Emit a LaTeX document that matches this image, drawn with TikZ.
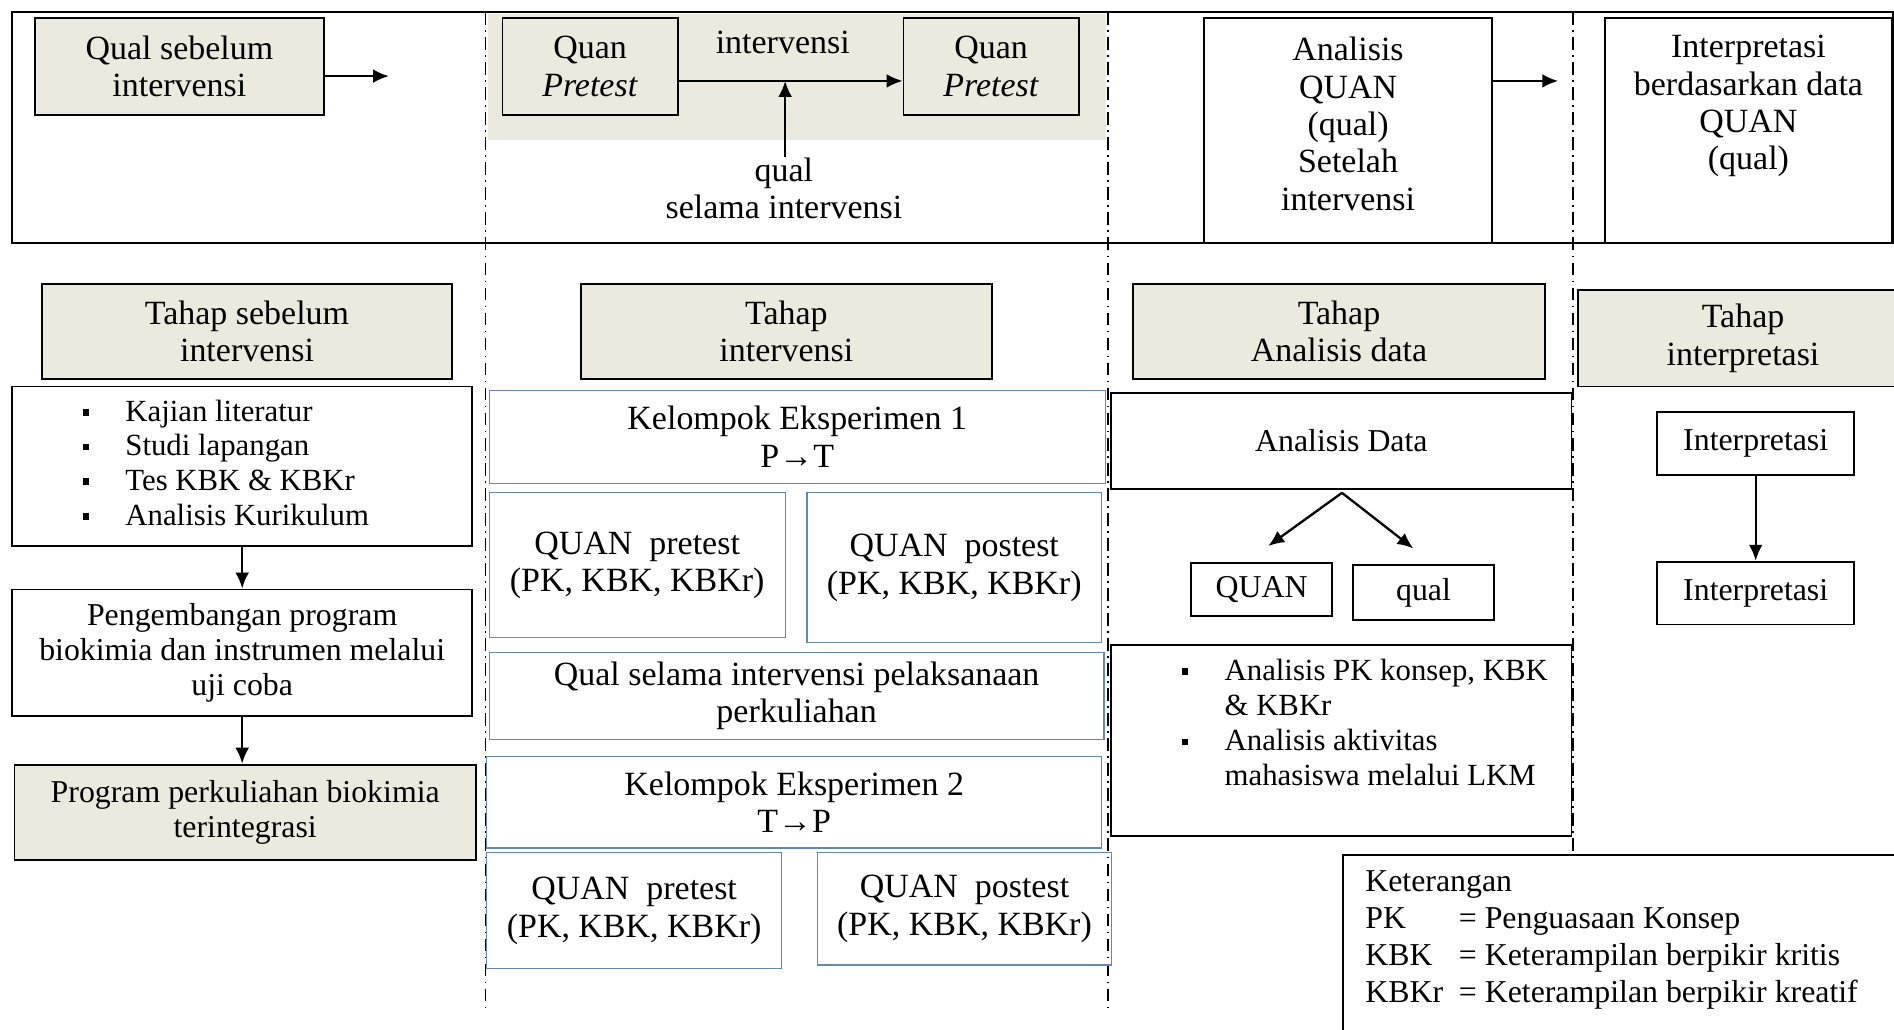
\documentclass[tikz,border=0pt]{standalone}
\usepackage{fontspec}
\setmainfont{Liberation Serif}
\usepackage{tikz}
\usetikzlibrary{arrows.meta}
\definecolor{beige}{RGB}{236,233,222}
\definecolor{steel}{RGB}{100,135,180}
\newcommand{\sqbullet}{\raisebox{0.09cm}{\rule{0.11cm}{0.11cm}}}

\begin{document}
\begin{tikzpicture}[x=0.02cm, y=-0.02cm, every node/.style={align=center, inner sep=0pt, font=\fontsize{16}{17.6}\selectfont}]
	
	\tikzset{edge/.style = {->,> = {Latex[length=7.5pt,width=6.5pt]}, line width=1.1pt}}
	\tikzset{wh/.style 2 args = {minimum width=#1*0.02cm, minimum height=#2*0.02cm}}
	\tikzset{box/.style = {draw=black, line width=0.9pt}}
	\tikzset{tahap/.style = {box, fill=beige}}
	\tikzset{bluebox/.style = {draw=steel, line width=0.6pt}}
	\tikzset{divider/.style = {line width=0.8pt, dash pattern=on 6pt off 2.5pt on 0.8pt off 2.5pt}}
	\tikzset{smalltxt/.style = {font=\fontsize{15}{17}\selectfont}}
	
	\useasboundingbox (0,0) rectangle (1568,852);
	
	\fill[beige] (404,12) rectangle (916,116);
	\draw[line width=0.9pt] (10,10) rectangle (1567,201);
	\foreach \x/\y in {402/835,917/835,1302/708}
	\draw[divider] (\x,10) -- (\x,\y);
	
	\node[tahap, wh={239}{80}] (1)  at (148.5,55)   {Qual sebelum\\intervensi};
	\node[tahap, wh={145}{80}] (2)  at (488.5,55)   {Quan\\\textit{Pretest}};
	\node[tahap, wh={145}{80}] (3)  at (820.5,55)   {Quan\\\textit{Pretest}};
	\node (4)  at (648,35)   {intervensi};
	\node (5)  at (649,156)   {qual\\selama intervensi};
	\node[box, wh={238}{186}] (6)  at (1116,108)   {};
	\node (7)  at (1116,102.5)   {Analisis\\QUAN\\(qual)\\Setelah\\intervensi};
	\node[box, wh={237}{186}] (8)  at (1447.5,108)   {};
	\node (9)  at (1447.5,88)   {Interpretasi\\berdasarkan data\\QUAN\\(qual)};
	
	\coordinate (a) at (322,63);
	\coordinate (b) at (650,67);
	\coordinate (c) at (1290,67);
	
	\node[tahap, wh={339}{79}] (10)  at (204.5,274.5)   {Tahap sebelum\\intervensi};
	\node[box, wh={381}{132}] (11)  at (200.5,386)   {};
	\node[anchor=west, font=\fontsize{14.5}{16.3}\selectfont] (12)  at (68,386)   {\begin{tabular}{@{}l@{\hspace{0.6cm}}l@{}}
		\sqbullet & Kajian literatur\\
		\sqbullet & Studi lapangan\\
		\sqbullet & Tes KBK \& KBKr\\
		\sqbullet & Analisis Kurikulum
	\end{tabular}};
	\node[box, wh={381}{105}, font=\fontsize{15}{16.4}\selectfont] (13)  at (200.5,540.5)   {Pengembangan program\\biokimia dan instrumen melalui\\uji coba};
	\node[tahap, wh={382}{79}, font=\fontsize{15}{16.6}\selectfont] (14)  at (203,672.5)   {Program perkuliahan biokimia\\terintegrasi};
	
	\node[tahap, wh={340}{79}] (15)  at (651,274.5)   {Tahap\\intervensi};
	\node[bluebox, wh={510}{77}] (16)  at (660,361.5)   {Kelompok Eksperimen 1\\P→T};
	\node[bluebox, wh={245}{120}] (17)  at (527.5,468)   {QUAN~~pretest\\(PK, KBK, KBKr)};
	\node[bluebox, wh={244}{124}] (18)  at (790,470)   {QUAN~~postest\\(PK, KBK, KBKr)};
	\node[bluebox, wh={509}{72}] (19)  at (659.5,576)   {Qual selama intervensi pelaksanaan\\perkuliahan};
	\node[bluebox, wh={509}{76}] (20)  at (657.5,664)   {Kelompok Eksperimen 2\\T→P};
	\node[bluebox, wh={244}{96}] (21)  at (525,754)   {QUAN~~pretest\\(PK, KBK, KBKr)};
	\node[bluebox, wh={243}{93}] (22)  at (798.5,752.5)   {QUAN~~postest\\(PK, KBK, KBKr)};
	
	\node[tahap, wh={341}{79}] (23)  at (1108.5,274.5)   {Tahap\\Analisis data};
	\node[box, wh={381}{80}, smalltxt] (24)  at (1110.5,365)   {Analisis Data};
	\node[box, wh={117}{44}, smalltxt] (25)  at (1044.5,488)   {QUAN};
	\node[box, wh={117}{45}, smalltxt] (26)  at (1178.5,490.5)   {qual};
	\node[box, wh={381}{158}] (27)  at (1110.5,613)   {};
	\node[anchor=west, font=\fontsize{14.5}{16.6}\selectfont] (28)  at (978,601)   {\begin{tabular}{@{}l@{\hspace{0.6cm}}l@{}}
		\sqbullet & Analisis PK konsep, KBK\\
		 & \& KBKr\\
		\sqbullet & Analisis aktivitas\\
		 & mahasiswa melalui LKM
	\end{tabular}};
	
	\coordinate (d) at (1111,408);
	\coordinate (e) at (1050,452);
	\coordinate (f) at (1170,454);
	
	\node[tahap, wh={274}{80}] (29)  at (1443,280)   {Tahap\\interpretasi};
	\node[box, wh={163}{52}, smalltxt] (30)  at (1453.5,367)   {Interpretasi};
	\node[box, wh={163}{52}, smalltxt] (31)  at (1453.5,491)   {Interpretasi};
	
	\node[box, wh={470}{170}] (32)  at (1347,793)   {};
	\node[anchor=west, font=\fontsize{15}{17.4}\selectfont] (33)  at (1130,778)   {\begin{tabular}{@{}l@{\hspace{0.26cm}}l@{}}
		\multicolumn{2}{@{}l@{}}{Keterangan}\\
		PK & = Penguasaan Konsep\\
		KBK & = Keterampilan berpikir kritis\\
		KBKr & = Keterampilan berpikir kreatif
	\end{tabular}};
	
	\draw[edge] (1.east |- a) to (a);
	\draw[edge] (2.east |- b) to (3.west |- b);
	\draw[edge] (b |- 5.north) to (b);
	\draw[edge] (6.east |- c) to (c);
	\foreach \dest in {e,f}
	\draw[edge] (d) to (\dest);
	\foreach \source/\dest in {11/13,13/14,30/31}
	\draw[edge] (\source.south) to (\source.south |- \dest.north);
	
\end{tikzpicture}
\end{document}
